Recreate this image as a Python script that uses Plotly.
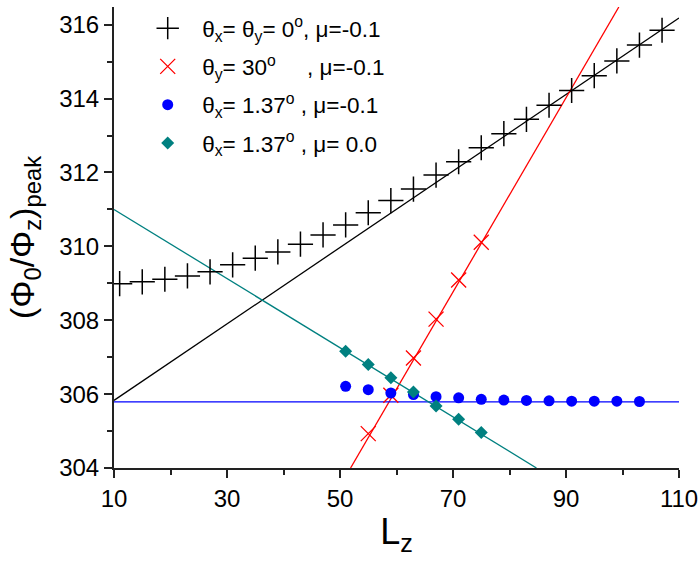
import plotly.graph_objects as go

# ---- data ----
lz_black = [11, 15, 19, 23, 27, 31, 35, 39, 43, 47, 51, 55, 59, 63, 67, 71, 75, 79, 83, 87, 91, 95, 99, 103, 107]
phi_black = [308.99, 309.04, 309.11, 309.20, 309.31, 309.50, 309.68, 309.85, 310.06, 310.31, 310.58, 310.91,
             311.24, 311.55, 311.93, 312.29, 312.67, 313.05, 313.44, 313.82, 314.22, 314.62, 315.02, 315.45, 315.85]

lz_red = [55, 59, 63, 67, 71, 75]
phi_red = [304.93, 305.97, 306.98, 308.03, 309.09, 310.11]

lz_blue = [51, 55, 59, 63, 67, 71, 75, 79, 83, 87, 91, 95, 99, 103]
phi_blue = [306.21, 306.12, 306.03, 305.99, 305.93, 305.90, 305.86, 305.84, 305.83, 305.82, 305.81, 305.81, 305.81, 305.80]

lz_teal = [51, 55, 59, 63, 67, 71, 75]
phi_teal = [307.16, 306.80, 306.44, 306.06, 305.68, 305.32, 304.96]

# linear fits (end points)
fit_black_x = [10, 110]
fit_black_y = [305.83, 316.18]
fit_red_x = [51.87, 99.35]
fit_red_y = [304.0, 316.48]
fit_blue_x = [10, 110]
fit_blue_y = [305.79, 305.79]
fit_teal_x = [10, 84.77]
fit_teal_y = [311.0, 304.0]

names = [
    "θ<sub>x</sub>= θ<sub>y</sub>= 0<sup>o</sup>, μ=-0.1",
    "θ<sub>y</sub>= 30<sup>o</sup>\u00a0\u00a0\u00a0\u00a0\u00a0, μ=-0.1",
    "θ<sub>x</sub>= 1.37<sup>o</sup> , μ=-0.1",
    "θ<sub>x</sub>= 1.37<sup>o</sup> , μ= 0.0",
]

BLACK = "#000000"
RED = "#ff0000"
BLUE = "#0000ff"
TEAL = "#008080"
FONT = "Liberation Sans, Arial"

fig = go.Figure()

# fit lines
for fx, fy, c in [(fit_black_x, fit_black_y, BLACK), (fit_red_x, fit_red_y, RED),
                  (fit_blue_x, fit_blue_y, BLUE), (fit_teal_x, fit_teal_y, TEAL)]:
    fig.add_trace(go.Scatter(x=fx, y=fy, mode="lines", line=dict(color=c, width=1.3),
                             showlegend=False, hoverinfo="skip"))

fig.add_trace(go.Scatter(x=lz_black, y=phi_black, mode="markers", name=names[0], legendgroup="a",
                         marker=dict(symbol="cross-thin-open", size=18, color=BLACK,
                                     line=dict(color=BLACK, width=1.5))))
fig.add_trace(go.Scatter(x=lz_red, y=phi_red, mode="markers", name=names[1], legendgroup="b",
                         marker=dict(symbol="x-thin-open", size=15, color=RED,
                                     line=dict(color=RED, width=1.3))))
fig.add_trace(go.Scatter(x=lz_blue, y=phi_blue, mode="markers", name=names[2], legendgroup="c",
                         marker=dict(symbol="circle", size=11, color=BLUE, line=dict(width=0))))
fig.add_trace(go.Scatter(x=lz_teal, y=phi_teal, mode="markers", name=names[3], legendgroup="d",
                         marker=dict(symbol="diamond", size=10, color=TEAL, line=dict(width=0))))

axis_common = dict(
    showgrid=False, zeroline=False, showline=True, linecolor="#222222", linewidth=2,
    ticks="outside", ticklen=8, tickwidth=2, tickcolor="#222222",
    tickfont=dict(family=FONT, size=24, color="#000000"),
    mirror=False, automargin=False,
)

fig.update_layout(
    width=700, height=563,
    margin=dict(l=114, r=21, t=7, b=95),
    paper_bgcolor="white", plot_bgcolor="white",
    font=dict(family=FONT, color="#000000"),
    xaxis=dict(range=[10, 110], tick0=10, dtick=20,
               minor=dict(dtick=10, ticks="outside", ticklen=5, tickwidth=2, tickcolor="#222222"),
               title=dict(text="L<sub>z</sub>", font=dict(size=36), standoff=8),
               **axis_common),
    yaxis=dict(range=[304, 316.48], tick0=304, dtick=2,
               minor=dict(dtick=1, ticks="outside", ticklen=5, tickwidth=2, tickcolor="#222222"),
               title=dict(text="(Φ<sub>0</sub>/Φ<sub>z</sub>)<sub>peak</sub>", font=dict(size=34), standoff=14),
               **axis_common),
    legend=dict(x=0.034, y=1.0, xanchor="left", yanchor="top", bgcolor="rgba(0,0,0,0)",
                borderwidth=0, font=dict(size=22.5, family=FONT),
                tracegroupgap=6, itemwidth=59),
    showlegend=True,
)

fig.write_html("out.html", config={"displayModeBar": False},
               post_script="document.body.style.margin='0';document.body.style.overflow='hidden';")
